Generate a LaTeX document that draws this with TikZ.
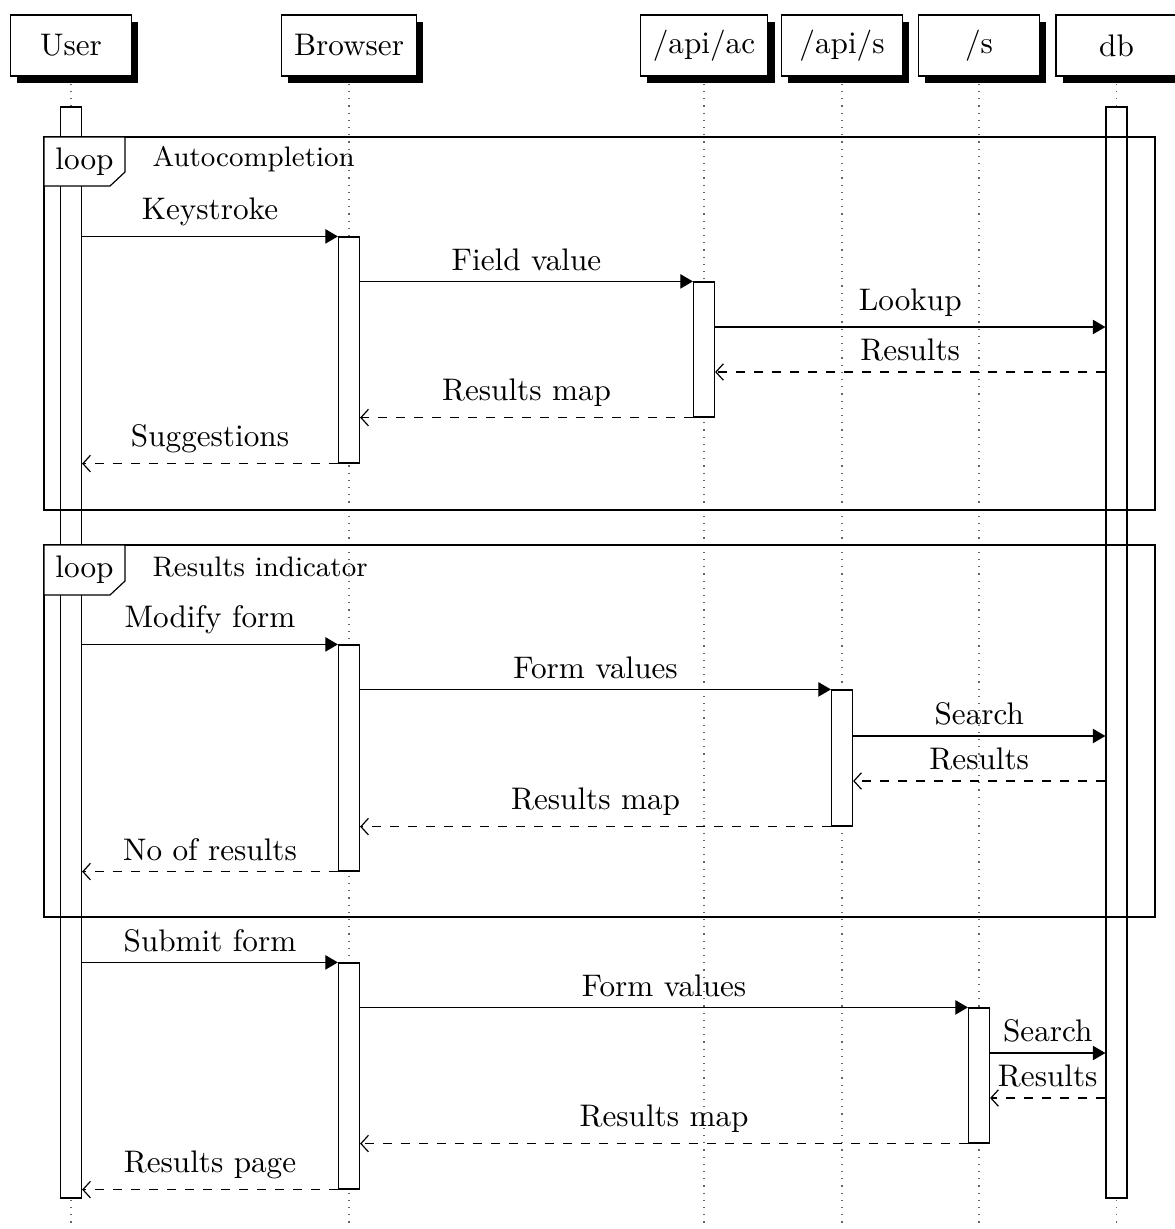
\documentclass[tikz,border=0pt]{standalone}
\usepackage{tikz}
\usetikzlibrary{arrows.meta,shadows,fit,backgrounds}

\tikzset{
  actor/.style={draw, fill=white, minimum width=40.3pt, minimum height=20.3pt, inner xsep=4.2pt,
    drop shadow={shadow xshift=2.3pt, shadow yshift=-2.3pt, fill=black, opacity=1}},
  lifeline/.style={dotted, black!60},
  activation/.style={draw, fill=white, inner xsep=3.5pt, inner ysep=0pt, minimum size=0pt},
  call/.style={-{Triangle[length=4.2pt,width=4.8pt]}},
  reply/.style={dashed, -{Straight Barb[length=2.5pt,width=5.5pt]}},
  msglabel/.style={above, midway},
  looplabel/.style={draw, fill=white},
  loopdesc/.style={anchor=west, font=\fontsize{9.4}{11}\selectfont},
}

\begin{document}
\begin{tikzpicture}[x=0.33333pt, y=-0.33333pt, font=\fontsize{10.4}{12.5}\selectfont]
        \useasboundingbox (0,0) rectangle (1174,1229);
          % participants
          \node[actor] (user) at (71,45.5) {User};
          \node[actor] (browser) at (349,45.5) {Browser};
          \node[actor] (apiac) at (704,45.5) {/api/ac};
          \node[actor] (apis) at (842,45.5) {/api/s};
          \node[actor] (s) at (979,45.5) {/s};
          \node[actor] (db) at (1116.5,45.5) {db};

          % lifelines
          \begin{scope}[on background layer]
          \draw[lifeline] (user.south) -- (user.south |- 0,1229);
          \draw[lifeline] (browser.south) -- (browser.south |- 0,1229);
          \draw[lifeline] (apiac.south) -- (apiac.south |- 0,1229);
          \draw[lifeline] (apis.south) -- (apis.south |- 0,1229);
          \draw[lifeline] (s.south) -- (s.south |- 0,1229);
          \draw[lifeline] (db.south) -- (db.south |- 0,1229);
          \end{scope}

          % activations
          \node[activation, fit={(71,107) (71,1198)}] (bu) {};
          \node[activation, fit={(1116.5,107) (1116.5,1198)}] (bdb) {};
          \node[activation, fit={(349,237) (349,463)}] (bb1) {};
          \node[activation, fit={(349,645) (349,871)}] (bb2) {};
          \node[activation, fit={(349,963) (349,1189)}] (bb3) {};
          \node[activation, fit={(704,282) (704,417)}] (bac) {};
          \node[activation, fit={(842,690) (842,826)}] (bapis) {};
          \node[activation, fit={(979,1008) (979,1143)}] (bs) {};

          % autocompletion
          \coordinate (k1) at (0,327);
          \coordinate (k2) at (0,372);
          \draw[call] (bu.east |- bb1.north) -- (bb1.north west) node[msglabel] {Keystroke};
          \draw[call] (bb1.east |- bac.north) -- (bac.north west) node[msglabel] {Field value};
          \draw[call] (bac.east |- k1) -- (bdb.west |- k1) node[msglabel] {Lookup};
          \draw[reply] (bdb.west |- k2) -- (bac.east |- k2) node[msglabel] {Results};
          \draw[reply] (bac.south west) -- (bb1.east |- bac.south) node[msglabel] {Results map};
          \draw[reply] (bb1.south west) -- (bu.east |- bb1.south) node[msglabel] {Suggestions};

          % results indicator
          \coordinate (k3) at (0,736);
          \coordinate (k4) at (0,781);
          \draw[call] (bu.east |- bb2.north) -- (bb2.north west) node[msglabel] {Modify form};
          \draw[call] (bb2.east |- bapis.north) -- (bapis.north west) node[msglabel] {Form values};
          \draw[call] (bapis.east |- k3) -- (bdb.west |- k3) node[msglabel] {Search};
          \draw[reply] (bdb.west |- k4) -- (bapis.east |- k4) node[msglabel] {Results};
          \draw[reply] (bapis.south west) -- (bb2.east |- bapis.south) node[msglabel] {Results map};
          \draw[reply] (bb2.south west) -- (bu.east |- bb2.south) node[msglabel] {No of results};

          % submit
          \coordinate (k5) at (0,1053);
          \coordinate (k6) at (0,1098);
          \draw[call] (bu.east |- bb3.north) -- (bb3.north west) node[msglabel] {Submit form};
          \draw[call] (bb3.east |- bs.north) -- (bs.north west) node[msglabel] {Form values};
          \draw[call] (bs.east |- k5) -- (bdb.west |- k5) node[msglabel] {Search};
          \draw[reply] (bdb.west |- k6) -- (bs.east |- k6) node[msglabel] {Results};
          \draw[reply] (bs.south west) -- (bb3.east |- bs.south) node[msglabel] {Results map};
          \draw[reply] (bb3.south west) -- (bu.east |- bb3.south) node[msglabel] {Results page};

          % loop frames
          \draw (44,137) rectangle (1155,510);
          \draw[looplabel] (44,137) -- (125,137) -- (125,172) -- (110,186) -- (44,186) -- cycle;
          \node (loopA) at (84.5,161.5) {loop};
          \node[loopdesc] (loopAtext) at (142,159) {Autocompletion};

          \draw (44,545) rectangle (1155,917);
          \draw[looplabel] (44,545) -- (125,545) -- (125,581) -- (110,595) -- (44,595) -- cycle;
          \node (loopB) at (84.5,569.5) {loop};
          \node[loopdesc] (loopBtext) at (142,567) {Results indicator};
     \end{tikzpicture}
\end{document}
